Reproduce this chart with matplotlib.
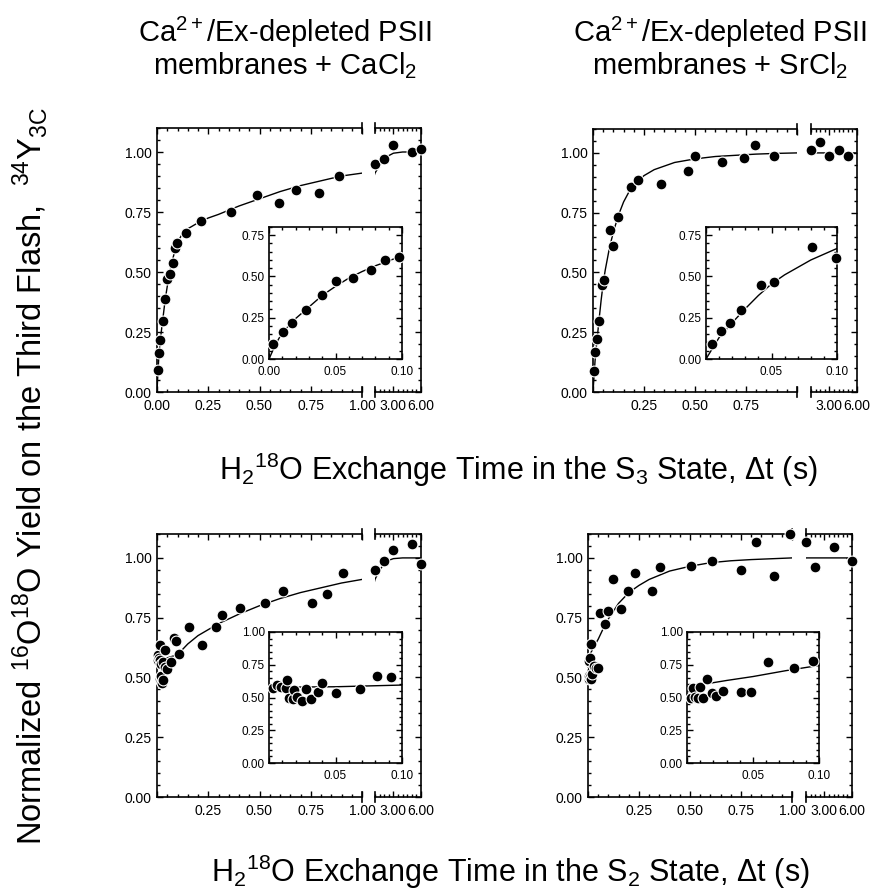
import numpy as np
import matplotlib
matplotlib.use("Agg")
import matplotlib.pyplot as plt
from matplotlib.ticker import MultipleLocator, FormatStrFormatter

plt.rcParams['font.family'] = ['Liberation Sans', 'DejaVu Sans']
plt.rcParams['mathtext.fontset'] = 'custom'
plt.rcParams['mathtext.rm'] = 'Liberation Sans'
plt.rcParams['mathtext.it'] = 'Liberation Sans:italic'
plt.rcParams['mathtext.default'] = 'regular'

# ---- data ----
# S3 state, CaCl2 (top left)
s3_ca_t = [0.0033, 0.0103, 0.017, 0.0276, 0.040, 0.050, 0.0634, 0.0767, 0.0872, 0.0977,
           0.14, 0.215, 0.359, 0.486, 0.594, 0.68, 0.789, 0.886, 1.0, 2.0, 3.0, 5.0, 6.0]
s3_ca_y = [0.092, 0.162, 0.217, 0.297, 0.386, 0.472, 0.493, 0.539, 0.600, 0.621,
           0.661, 0.714, 0.751, 0.821, 0.789, 0.840, 0.828, 0.899, 0.950, 0.971, 1.030, 0.999, 1.011]
s3_ca_fit_t = [0, 0.005, 0.01, 0.02, 0.03, 0.04, 0.05, 0.06, 0.07, 0.08, 0.09, 0.1, 0.125, 0.15,
               0.2, 0.25, 0.3, 0.4, 0.5, 0.6, 0.7, 0.8, 0.9, 1.0, 1.5, 2.0, 2.5, 3.0, 4.0, 6.0]
s3_ca_fit_y = [0.0, 0.09, 0.16, 0.245, 0.315, 0.385, 0.44, 0.49, 0.53, 0.565, 0.595, 0.625, 0.66, 0.68,
               0.705, 0.725, 0.74, 0.775, 0.805, 0.835, 0.86, 0.88, 0.90, 0.912, 0.945, 0.97, 0.985, 0.995, 1.0, 1.0]

# S3 state, SrCl2 (top right)
s3_sr_t = [0.0043, 0.0115, 0.0186, 0.027, 0.0417, 0.052, 0.081, 0.099, 0.124, 0.184, 0.221,
           0.335, 0.468, 0.50, 0.631, 0.738, 0.794, 0.885, 1.0, 2.0, 3.0, 4.0, 5.0]
s3_sr_y = [0.089, 0.167, 0.220, 0.299, 0.449, 0.469, 0.679, 0.611, 0.732, 0.858, 0.886,
           0.872, 0.924, 0.986, 0.962, 0.979, 1.033, 0.989, 1.011, 1.046, 0.989, 1.012, 0.988]
s3_sr_fit_t = [0, 0.01, 0.02, 0.03, 0.04, 0.05, 0.06, 0.07, 0.08, 0.09, 0.1, 0.125, 0.15, 0.175,
               0.2, 0.25, 0.3, 0.4, 0.5, 0.6, 0.7, 0.8, 0.9, 1.0, 6.0]
s3_sr_fit_y = [0.0, 0.13, 0.22, 0.305, 0.385, 0.455, 0.51, 0.555, 0.60, 0.635, 0.67, 0.74, 0.795, 0.835,
               0.865, 0.905, 0.93, 0.96, 0.975, 0.985, 0.99, 0.995, 0.998, 1.0, 1.0]

# S2 state, CaCl2 (bottom left)
s2_ca_t = [0.0028, 0.0058, 0.0088, 0.0128, 0.0138, 0.015, 0.0178, 0.0188, 0.0208, 0.025, 0.0278,
           0.0313, 0.037, 0.0396, 0.050, 0.0684, 0.081, 0.0915, 0.105, 0.158, 0.22, 0.288, 0.317,
           0.405, 0.525, 0.616, 0.756, 0.828, 0.909, 1.0, 2.0, 3.0, 5.0, 6.0]
s2_ca_y = [0.575, 0.595, 0.583, 0.575, 0.634, 0.494, 0.486, 0.557, 0.506, 0.476, 0.563,
           0.489, 0.545, 0.613, 0.537, 0.563, 0.667, 0.654, 0.600, 0.710, 0.636, 0.712, 0.761,
           0.789, 0.811, 0.860, 0.811, 0.849, 0.936, 0.949, 0.988, 1.032, 1.057, 0.974]
s2_ca_fit_t = [0, 0.05, 0.1, 0.15, 0.2, 0.3, 0.4, 0.5, 0.6, 0.7, 0.8, 0.9, 1.0,
               1.5, 2.0, 2.5, 3.0, 4.0, 6.0]
s2_ca_fit_y = [0.578, 0.582, 0.595, 0.64, 0.675, 0.725, 0.765, 0.80, 0.83, 0.855, 0.875, 0.895, 0.91,
               0.95, 0.975, 0.99, 0.997, 1.0, 1.0]

# S2 state, SrCl2 (bottom right)
s2_sr_t = [0.0028, 0.0043, 0.006, 0.008, 0.0098, 0.0124, 0.0149, 0.0187, 0.022, 0.027, 0.0409,
           0.0485, 0.061, 0.081, 0.0957, 0.124, 0.16, 0.198, 0.23, 0.312, 0.353, 0.505, 0.609,
           0.75, 0.824, 0.913, 0.99, 1.0, 2.0, 4.0, 6.0]
s2_sr_y = [0.494, 0.570, 0.506, 0.500, 0.583, 0.494, 0.639, 0.532, 0.514, 0.550, 0.540,
           0.540, 0.769, 0.723, 0.779, 0.911, 0.786, 0.862, 0.936, 0.860, 0.964, 0.967, 0.988,
           0.950, 1.067, 0.925, 1.099, 1.067, 0.964, 1.047, 0.988]
s2_sr_fit_t = [0.012, 0.03, 0.05, 0.075, 0.1, 0.15, 0.2, 0.25, 0.3, 0.4, 0.5, 0.6, 0.7, 0.8, 1.0, 6.0]
s2_sr_fit_y = [0.60, 0.63, 0.66, 0.705, 0.745, 0.81, 0.855, 0.885, 0.91, 0.945, 0.965, 0.98, 0.988,
               0.993, 1.0, 1.0]

W, H = 884, 896
fig = plt.figure(figsize=(W / 100, H / 100), dpi=100)


def box(x0, x1, ytop, ybot):
    return [x0 / W, 1 - ybot / H, (x1 - x0) / W, (ybot - ytop) / H]


def style_ticks(ax, size):
    ax.tick_params(which='both', direction='in', width=1, labelsize=size, pad=4)
    ax.tick_params(which='major', length=4.5)
    ax.tick_params(which='minor', length=2.2)
    for s in ax.spines.values():
        s.set_linewidth(1.2)


def dots(ax, t, y, **kw):
    ax.plot(t, y, 'o', color='black', markersize=7.8, markeredgecolor='white',
            markeredgewidth=0.8, clip_on=False, zorder=3, **kw)


def broken_panel(x0, xb0, xb1, x1, ytop, ybot, t, y, fit_t, fit_y, xlabels):
    t = np.array(t)
    y = np.array(y)
    ax1 = fig.add_axes(box(x0, xb0, ytop, ybot))
    ax2 = fig.add_axes(box(xb1, x1, ytop, ybot), sharey=ax1)

    for ax in (ax1, ax2):
        ax.plot(fit_t, fit_y, color='black', lw=1.0, zorder=2)
        style_ticks(ax, 10)
        ax.tick_params(axis='x', which='both', pad=5)
    dots(ax1, t[t < 1], y[t < 1])
    dots(ax2, t[t >= 1], y[t >= 1])

    ax1.set_xlim(0, 1.0)
    ax1.set_ylim(0, 1.1)
    ax1.set_xticks([0, 0.25, 0.5, 0.75, 1.0], xlabels)
    ax1.xaxis.set_minor_locator(MultipleLocator(0.05))
    ax1.set_yticks([0, 0.25, 0.5, 0.75, 1.0])
    ax1.yaxis.set_major_formatter(FormatStrFormatter('%.2f'))
    ax1.yaxis.set_minor_locator(MultipleLocator(0.05))
    ax1.spines['right'].set_visible(False)
    ax1.tick_params(which='both', top=True, right=False)

    ax2.set_xlim(1.0, 6.0)
    ax2.set_xticks([3, 6], ['3.00', '6.00'])
    ax2.set_xticks(np.arange(1.0, 6.01, 0.5), minor=True)
    ax2.spines['left'].set_visible(False)
    ax2.tick_params(which='both', top=True, right=True, left=False, labelleft=False)

    # break marks
    for ax, xe in ((ax1, 1.0), (ax2, 0.0)):
        for yc in (0.0, 1.0):
            ax.plot([xe, xe], [yc - 0.018, yc + 0.018], transform=ax.transAxes,
                    color='black', lw=1.2, clip_on=False)
    return ax1, ax2


def inset(x0, x1, ytop, ybot, t, y, fit_t, fit_y, ymax, yticks, xticks, xlabels):
    t = np.array(t)
    y = np.array(y)
    ax = fig.add_axes(box(x0, x1, ytop, ybot))
    ax.plot(fit_t, fit_y, color='black', lw=1.0, zorder=2)
    dots(ax, t[t <= 0.1], y[t <= 0.1])
    ax.set_xlim(0, 0.1)
    ax.set_ylim(0, ymax)
    ax.set_xticks(xticks, xlabels)
    ax.xaxis.set_minor_locator(MultipleLocator(0.01))
    ax.set_yticks(yticks)
    ax.yaxis.set_major_formatter(FormatStrFormatter('%.2f'))
    ax.yaxis.set_minor_locator(MultipleLocator(0.05))
    style_ticks(ax, 8.5)
    ax.tick_params(which='both', top=True, right=True)
    ax.tick_params(axis='y', which='both', pad=3)
    ax.tick_params(axis='x', which='both', pad=5)
    return ax


broken_panel(157, 362, 375, 421, 128, 392, s3_ca_t, s3_ca_y, s3_ca_fit_t, s3_ca_fit_y,
             ['0.00', '0.25', '0.50', '0.75', '1.00'])
inset(269, 402, 227, 359, s3_ca_t, s3_ca_y, s3_ca_fit_t, s3_ca_fit_y, 0.8,
      [0, 0.25, 0.5, 0.75], [0, 0.05, 0.1], ['0.00', '0.05', '0.10'])

broken_panel(593, 797, 811, 857, 129, 392, s3_sr_t, s3_sr_y, s3_sr_fit_t, s3_sr_fit_y,
             ['', '0.25', '0.50', '0.75', ''])
inset(706, 837, 227, 359, s3_sr_t, s3_sr_y, s3_sr_fit_t, s3_sr_fit_y, 0.8,
      [0, 0.25, 0.5, 0.75], [0, 0.05, 0.1], ['', '0.05', '0.10'])

broken_panel(157, 362, 375, 421, 534, 797, s2_ca_t, s2_ca_y, s2_ca_fit_t, s2_ca_fit_y,
             ['', '0.25', '0.50', '0.75', '1.00'])
inset(269, 402, 632, 763, s2_ca_t, s2_ca_y, s2_ca_fit_t, s2_ca_fit_y, 1.0,
      [0, 0.25, 0.5, 0.75, 1.0], [0, 0.05, 0.1], ['', '0.05', '0.10'])

broken_panel(588, 792, 806, 852, 534, 797, s2_sr_t, s2_sr_y, s2_sr_fit_t, s2_sr_fit_y,
             ['', '0.25', '0.50', '0.75', '1.00'])
inset(687, 819, 632, 763, s2_sr_t, s2_sr_y, s2_sr_fit_t, s2_sr_fit_y, 1.0,
      [0, 0.25, 0.5, 0.75, 1.0], [0, 0.05, 0.1], ['', '0.05', '0.10'])

# titles and axis labels
fig.text(285 / W, 1 - 48 / H, 'Ca$^{2+}$/Ex-depleted PSII\nmembranes + CaCl$_2$',
         ha='center', va='center', fontsize=21, linespacing=1.0)
fig.text(720 / W, 1 - 48 / H, 'Ca$^{2+}$/Ex-depleted PSII\nmembranes + SrCl$_2$',
         ha='center', va='center', fontsize=21, linespacing=1.0)
fig.text(518 / W, 1 - 470 / H, 'H$_2$$^{18}$O Exchange Time in the S$_3$ State, \u0394t (s)',
         ha='center', va='center', fontsize=22)
fig.text(510 / W, 1 - 872 / H, 'H$_2$$^{18}$O Exchange Time in the S$_2$ State, \u0394t (s)',
         ha='center', va='center', fontsize=22)
fig.text(30 / W, 1 - 476 / H,
         'Normalized $^{16}$O$^{18}$O Yield on the Third Flash,  $^{34}$Y$_{3C}$',
         ha='center', va='center', rotation=90, fontsize=23.5)

fig.savefig('out.png', dpi=100)
